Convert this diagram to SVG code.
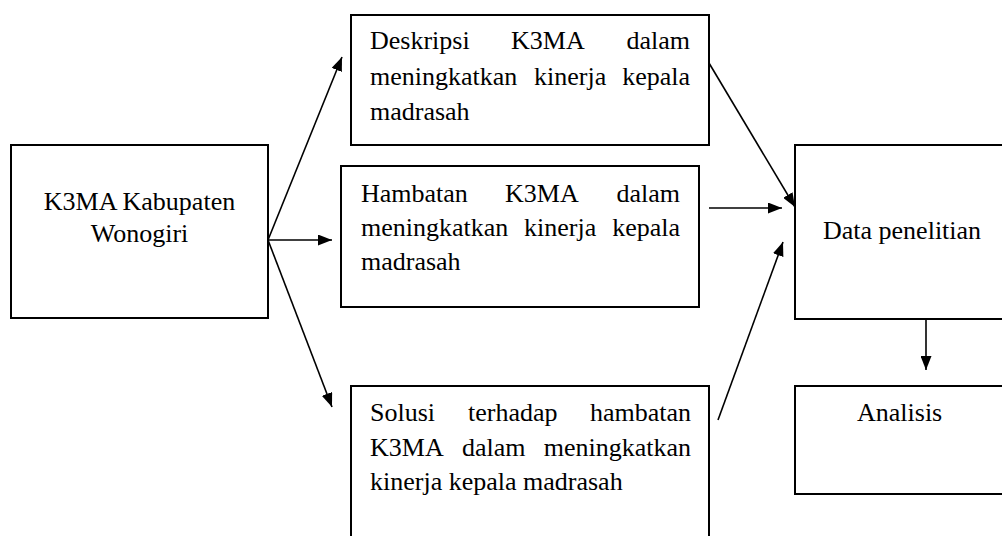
<svg xmlns="http://www.w3.org/2000/svg" width="1002" height="536" viewBox="0 0 1002 536">
<style>
.box{fill:#fff;stroke:#000;stroke-width:2}
.t{font-family:"Liberation Serif","Times New Roman",serif;font-size:26px;fill:#000}
.c{fill:none;stroke:#000;stroke-width:1.6}
</style>
<defs>
<marker id="ah" markerUnits="userSpaceOnUse" markerWidth="14" markerHeight="11" refX="14" refY="5.5" orient="auto">
<path d="M0,0 L14,5.5 L0,11 z" fill="#000"/>
</marker>
</defs>
<rect width="1002" height="536" fill="#fff"/>
<g id="k3ma">
<rect class="box" x="11" y="145" width="257" height="173"/>
<text class="t" x="139.5" y="210" text-anchor="middle">K3MA Kabupaten</text>
<text class="t" x="139.5" y="242" text-anchor="middle">Wonogiri</text>
</g>
<g id="deskripsi">
<rect class="box" x="351" y="15" width="358" height="130"/>
<text class="t" y="49"><tspan x="370">Deskripsi</tspan><tspan x="511">K3MA</tspan><tspan x="690" text-anchor="end">dalam</tspan></text>
<text class="t" y="85"><tspan x="370">meningkatkan</tspan><tspan x="534">kinerja</tspan><tspan x="690" text-anchor="end">kepala</tspan></text>
<text class="t" x="370" y="120">madrasah</text>
</g>
<g id="hambatan">
<rect class="box" x="341" y="166" width="358" height="141"/>
<text class="t" y="202"><tspan x="361">Hambatan</tspan><tspan x="505">K3MA</tspan><tspan x="680" text-anchor="end">dalam</tspan></text>
<text class="t" y="236"><tspan x="361">meningkatkan</tspan><tspan x="524">kinerja</tspan><tspan x="680" text-anchor="end">kepala</tspan></text>
<text class="t" x="361" y="270">madrasah</text>
</g>
<g id="solusi">
<rect class="box" x="351" y="386" width="358" height="160"/>
<text class="t" y="421"><tspan x="370">Solusi</tspan><tspan x="468">terhadap</tspan><tspan x="691" text-anchor="end">hambatan</tspan></text>
<text class="t" y="456"><tspan x="370">K3MA</tspan><tspan x="462">dalam</tspan><tspan x="691" text-anchor="end">meningkatkan</tspan></text>
<text class="t" x="370" y="490">kinerja kepala madrasah</text>
</g>
<g id="data">
<rect class="box" x="795" y="145" width="220" height="174"/>
<text class="t" x="823" y="239">Data penelitian</text>
</g>
<g id="analisis">
<rect class="box" x="795" y="386" width="220" height="108"/>
<text class="t" x="857" y="421">Analisis</text>
</g>
<g id="connectors">
<line class="c" x1="268" y1="240" x2="342" y2="57" marker-end="url(#ah)"/>
<line class="c" x1="268" y1="240" x2="332" y2="240" marker-end="url(#ah)"/>
<line class="c" x1="268" y1="240" x2="332" y2="407" marker-end="url(#ah)"/>
<line class="c" x1="709" y1="63" x2="795" y2="207" marker-end="url(#ah)"/>
<line class="c" x1="709" y1="208" x2="782" y2="208" marker-end="url(#ah)"/>
<line class="c" x1="718" y1="420" x2="783" y2="242" marker-end="url(#ah)"/>
<line class="c" x1="926" y1="319" x2="926" y2="370" marker-end="url(#ah)"/>
</g>
</svg>
